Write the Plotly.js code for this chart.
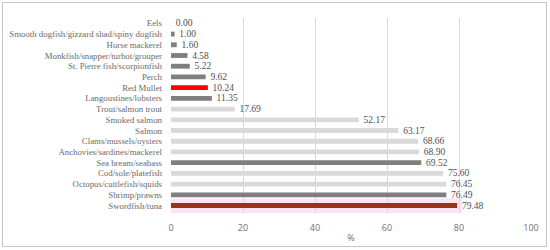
<!DOCTYPE html>
<html><head><meta charset="utf-8">
<script src="https://cdn.plot.ly/plotly-3.0.1.min.js"></script>
<style>html,body{margin:0;padding:0;background:#fff}#wrap{position:relative;width:550px;height:250px}#frame{position:absolute;left:2px;top:2px;width:543px;height:243px;border:1px solid #c8c8c8;pointer-events:none}</style>
</head><body>
<div id="wrap"><div id="chart" style="width:550px;height:250px"></div><div id="frame"></div></div>
<script>
const categories = ["Eels","Smooth dogfish/gizzard shad/spiny dogfish","Horse mackerel","Monkfish/snapper/turbot/grouper","St. Pierre fish/scorpionfish","Perch","Red Mullet","Langoustines/lobsters","Trout/salmon trout","Smoked salmon","Salmon","Clams/mussels/oysters","Anchovies/sardines/mackerel","Sea bream/seabass","Cod/sole/platefish","Octopus/cuttlefish/squids","Shrimp/prawns","Swordfish/tuna"];
const values = [0.00,1.00,1.60,4.58,5.22,9.62,10.24,11.35,17.69,52.17,63.17,68.66,68.90,69.52,75.60,76.45,76.49,79.48];
const labels = ["0.00","1.00","1.60","4.58","5.22","9.62","10.24","11.35","17.69","52.17","63.17","68.66","68.90","69.52","75.60","76.45","76.49","79.48"];
const colorGroup = ["d","d","d","d","d","d","r","d","l","l","l","l","l","d","l","l","d","s"];
const palette = {d:"#7f7f7f", l:"#d9d9d9", r:"#ff0000", s:"#9a3418"};
const colors = colorGroup.map(g => palette[g]);
const xTicks = [0,20,40,60,80,100];

const trace = {
  type:"bar", orientation:"h", y:categories, x:values,
  marker:{color:colors, line:{width:0}},
  text:labels, texttemplate:"  %{text}", textposition:"outside", cliponaxis:false,
  constraintext:"none",
  textfont:{family:"Liberation Serif, DejaVu Serif, serif", size:9.5, color:"#505050"},
  hoverinfo:"none"
};
const layout = {
  width:550, height:250,
  margin:{l:171, r:19, t:18, b:37},
  paper_bgcolor:"rgba(0,0,0,0)", plot_bgcolor:"rgba(0,0,0,0)",
  bargap:0.55,
  showlegend:false,
  xaxis:{range:[0,100], tickvals:xTicks, showgrid:true, gridcolor:"#d9d9d9", gridwidth:1,
    zeroline:false, showline:false, ticks:"", ticklabelstandoff:8,
    tickfont:{family:"Open Sans, Liberation Sans, sans-serif", size:9, color:"#707070"},
    title:{text:"%", font:{family:"Open Sans, Liberation Sans, sans-serif", size:9, color:"#707070"}, standoff:1}},
  yaxis:{autorange:"reversed", type:"category", tickmode:"array", tickvals:categories, ticktext:categories,
    showgrid:false, zeroline:false, showline:false, ticks:"",
    ticklabelstandoff:8,
    tickfont:{family:"Liberation Serif, DejaVu Serif, serif", size:8.8, color:"#6a6a6a"}},
  shapes:[{type:"rect", xref:"x", yref:"y", x0:-3.6, x1:80.8, y0:16.35, y1:17.7,
    fillcolor:"#fde3f3", line:{width:0}, layer:"below"}]
};
Plotly.newPlot("chart",[trace],layout,{staticPlot:true});
</script>
</body></html>
